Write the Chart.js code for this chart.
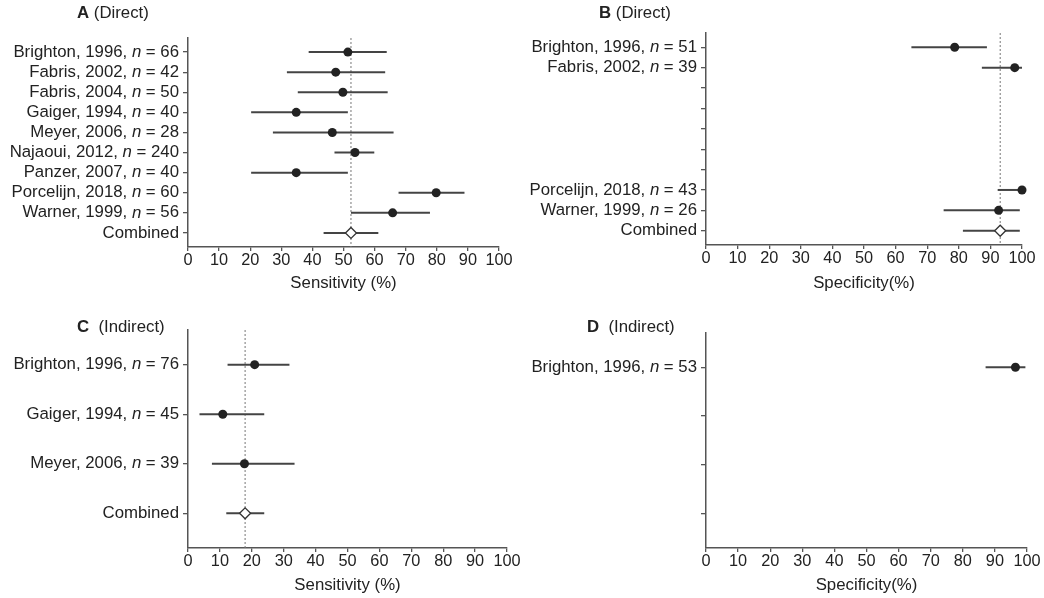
<!DOCTYPE html>
<html>
<head>
<meta charset="utf-8">
<script src="https://cdn.jsdelivr.net/npm/chart.js@4.4.1/dist/chart.umd.min.js"></script>
<style>
    html, body { margin: 0; padding: 0; background: #fff; }
    #page { position: relative; width: 1044px; height: 598px; overflow: hidden; font-family: "Liberation Sans", Arial, sans-serif; color: #222; }
    canvas { position: absolute; left: 0; top: 0; }
    .panel-title { position: absolute; font-size: 16.8px; line-height: 20px; white-space: pre; }
</style>
</head>
<body>
<div id="page">
    <canvas id="chart-a" width="1044" height="598"></canvas>
    <canvas id="chart-b" width="1044" height="598"></canvas>
    <canvas id="chart-c" width="1044" height="598"></canvas>
    <canvas id="chart-d" width="1044" height="598"></canvas>
    <div class="panel-title" style="left:77px;top:3px"><b>A</b> (Direct)</div>
    <div class="panel-title" style="left:599px;top:3px"><b>B</b> (Direct)</div>
    <div class="panel-title" style="left:77px;top:317px"><b>C</b>  (Indirect)</div>
    <div class="panel-title" style="left:587px;top:317px"><b>D</b>  (Indirect)</div>
</div>
<script>
const STUDIES_DIRECT = ["Brighton, 1996", "Fabris, 2002", "Fabris, 2004", "Gaiger, 1994", "Meyer, 2006",
    "Najaoui, 2012", "Panzer, 2007", "Porcelijn, 2018", "Warner, 1999", "Combined"];
const SENS_DIRECT_N = [66, 42, 50, 40, 28, 240, 40, 60, 56, null];
const SENS_DIRECT_EST = [51.4, 47.5, 49.8, 34.8, 46.4, 53.7, 34.8, 79.8, 65.8, 52.4];
const SENS_DIRECT_LO = [38.8, 31.8, 35.3, 20.3, 27.3, 47.1, 20.3, 67.7, 52.4, 43.6];
const SENS_DIRECT_HI = [63.9, 63.4, 64.2, 51.4, 66.1, 59.9, 51.4, 88.9, 77.8, 61.2];

const SPEC_DIRECT_N = [51, 39, null, null, null, null, null, 43, 26, null];
const SPEC_DIRECT_EST = [78.7, 97.7, null, null, null, null, null, 100, 92.6, 93.1];
const SPEC_DIRECT_LO = [65.0, 87.3, null, null, null, null, null, 92.3, 75.2, 81.3];
const SPEC_DIRECT_HI = [88.9, 100, null, null, null, null, null, 100, 99.3, 99.3];

const STUDIES_INDIRECT = ["Brighton, 1996", "Gaiger, 1994", "Meyer, 2006", "Combined"];
const SENS_INDIRECT_N = [76, 45, 39, null];
const SENS_INDIRECT_EST = [20.9, 10.9, 17.7, 17.9];
const SENS_INDIRECT_LO = [12.4, 3.6, 7.5, 12.0];
const SENS_INDIRECT_HI = [31.8, 23.9, 33.4, 23.9];

const SPEC_INDIRECT_N = [53, null, null, null];
const SPEC_INDIRECT_EST = [96.4, null, null, null];
const SPEC_INDIRECT_LO = [87.1, null, null, null];
const SPEC_INDIRECT_HI = [99.5, null, null, null];

const X_TICKS = [0, 10, 20, 30, 40, 50, 60, 70, 80, 90, 100];

const FONT = "'Liberation Sans', Arial, sans-serif";
const FONTSIZE = 16.8;
const TICKSIZE = 16.3;
const TEXTCOLOR = "#222";
const AXISCOLOR = "#555";
const CICOLOR = "#444";
const DOTCOLOR = "#222";

const rowLabelPlugin = {
    id: "rowLabels",
    afterDraw(chart, args, opts) {
        const ctx = chart.ctx;
        const yScale = chart.scales.y;
        const right = chart.chartArea.left - 9;
        ctx.save();
        ctx.fillStyle = TEXTCOLOR;
        ctx.textBaseline = "middle";
        ctx.textAlign = "left";
        opts.labels.forEach((parts, i) => {
            if (!parts) return;
            const y = yScale.getPixelForValue(i);
            let width = 0;
            parts.forEach(p => {
                ctx.font = (p.italic ? "italic " : "") + FONTSIZE + "px " + FONT;
                width += ctx.measureText(p.text).width;
            });
            let x = right - width;
            parts.forEach(p => {
                ctx.font = (p.italic ? "italic " : "") + FONTSIZE + "px " + FONT;
                ctx.fillText(p.text, x, y);
                x += ctx.measureText(p.text).width;
            });
        });
        ctx.restore();
    }
};

function labelParts(name, n, est) {
    if (est === null) return null;
    if (n === null) return [{text: name}];
    return [{text: name + ", "}, {text: "n", italic: true}, {text: " = " + n}];
}

function makeForestChart(id, panel) {
    const rows = panel.studies.length;
    const last = rows - 1;
    const yMin = -0.7;
    const yMax = last + 0.7;
    const axisHeight = panel.titleY - panel.bottom + FONTSIZE * 0.6;

    const studyPoints = [];
    panel.est.forEach((v, i) => {
        if (v !== null && i < last) studyPoints.push({x: v, y: i});
    });
    const datasets = [{
        data: studyPoints,
        pointRadius: 4.5,
        pointBackgroundColor: DOTCOLOR,
        pointBorderWidth: 0,
        clip: false
    }];
    if (panel.est[last] !== null) {
        datasets.push({
            data: [{x: panel.est[last], y: last}],
            pointStyle: "rectRot",
            pointRadius: 5.5,
            pointBackgroundColor: "#fff",
            pointBorderColor: "#333",
            pointBorderWidth: 1.3,
            clip: false
        });
    }
    panel.est.forEach((v, i) => {
        if (v === null) return;
        datasets.push({
            data: [{x: panel.lo[i], y: i}, {x: panel.hi[i], y: i}],
            showLine: true,
            pointRadius: 0,
            borderColor: CICOLOR,
            borderWidth: 2,
            clip: false
        });
    });
    if (panel.est[last] !== null) {
        datasets.push({
            data: [{x: panel.est[last], y: yMin}, {x: panel.est[last], y: yMax}],
            showLine: true,
            pointRadius: 0,
            borderColor: "#777",
            borderWidth: 1,
            borderDash: [2, 2]
        });
    }

    const labels = panel.studies.map((s, i) => labelParts(s, panel.n[i], panel.est[i]));
    const rowIndices = panel.studies.map((s, i) => i);

    const ctx = document.querySelector("#" + id).getContext("2d");
    new Chart(ctx, {
        type: "scatter",
        data: {datasets: datasets},
        options: {
            responsive: false,
            animation: false,
            events: [],
            layout: {
                padding: {
                    left: 0,
                    top: panel.top,
                    right: 1044 - panel.right,
                    bottom: 598 - panel.bottom - axisHeight
                }
            },
            scales: {
                x: {
                    type: "linear",
                    min: 0,
                    max: 100,
                    afterBuildTicks: scale => { scale.ticks = X_TICKS.map(v => ({value: v})); },
                    afterFit: scale => { scale.height = axisHeight; },
                    ticks: {
                        color: TEXTCOLOR,
                        padding: 0,
                        autoSkip: false,
                        maxRotation: 0,
                        minRotation: 0,
                        font: {family: FONT, size: TICKSIZE}
                    },
                    grid: {
                        drawOnChartArea: false,
                        tickLength: 4,
                        color: AXISCOLOR,
                        lineWidth: 1.3
                    },
                    border: {color: AXISCOLOR, width: 1.5},
                    title: {
                        display: true,
                        text: panel.axisTitle,
                        color: TEXTCOLOR,
                        padding: 0,
                        font: {family: FONT, size: FONTSIZE}
                    }
                },
                y: {
                    type: "linear",
                    min: yMin,
                    max: yMax,
                    reverse: true,
                    afterBuildTicks: scale => { scale.ticks = rowIndices.map(v => ({value: v})); },
                    afterFit: scale => { scale.width = panel.left; },
                    ticks: {display: false},
                    grid: {
                        drawOnChartArea: false,
                        tickLength: 5,
                        color: AXISCOLOR,
                        lineWidth: 1.3
                    },
                    border: {color: AXISCOLOR, width: 1.5}
                }
            },
            plugins: {
                legend: {display: false},
                tooltip: {enabled: false},
                rowLabels: {labels: labels}
            }
        },
        plugins: [rowLabelPlugin]
    });
}

makeForestChart("chart-a", {
    studies: STUDIES_DIRECT, n: SENS_DIRECT_N,
    est: SENS_DIRECT_EST, lo: SENS_DIRECT_LO, hi: SENS_DIRECT_HI,
    axisTitle: "Sensitivity (%)",
    left: 188, top: 38, right: 499, bottom: 247, titleY: 283
});
makeForestChart("chart-b", {
    studies: STUDIES_DIRECT, n: SPEC_DIRECT_N,
    est: SPEC_DIRECT_EST, lo: SPEC_DIRECT_LO, hi: SPEC_DIRECT_HI,
    axisTitle: "Specificity(%)",
    left: 706, top: 33, right: 1022, bottom: 245, titleY: 283
});
makeForestChart("chart-c", {
    studies: STUDIES_INDIRECT, n: SENS_INDIRECT_N,
    est: SENS_INDIRECT_EST, lo: SENS_INDIRECT_LO, hi: SENS_INDIRECT_HI,
    axisTitle: "Sensitivity (%)",
    left: 188, top: 330, right: 507, bottom: 548, titleY: 585
});
makeForestChart("chart-d", {
    studies: STUDIES_INDIRECT, n: SPEC_INDIRECT_N,
    est: SPEC_INDIRECT_EST, lo: SPEC_INDIRECT_LO, hi: SPEC_INDIRECT_HI,
    axisTitle: "Specificity(%)",
    left: 706, top: 333, right: 1027, bottom: 548, titleY: 585
});
</script>
</body>
</html>
